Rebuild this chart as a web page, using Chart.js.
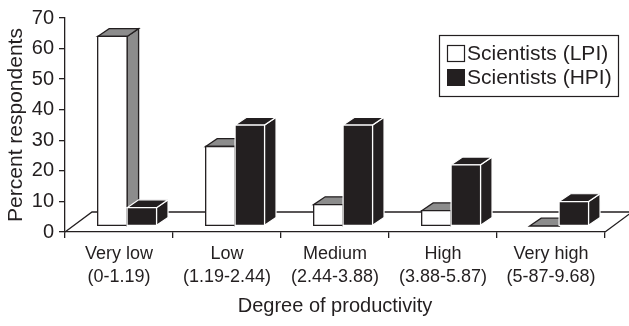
<!DOCTYPE html>
<html>
<head>
<meta charset="utf-8">
<script src="https://cdn.jsdelivr.net/npm/chart.js@4.4.1/dist/chart.umd.min.js"></script>
<style>
  html, body { margin: 0; padding: 0; background: #ffffff; }
  canvas { display: block; }
</style>
</head>
<body>
<canvas id="chart" width="629" height="326"></canvas>
<script>
// Productivity classes (two-line tick labels)
const categories = [
  ['Very low', '(0-1.19)'],
  ['Low', '(1.19-2.44)'],
  ['Medium', '(2.44-3.88)'],
  ['High', '(3.88-5.87)'],
  ['Very high', '(5-87-9.68)']
];
const seriesNames = ['Scientists (LPI)', 'Scientists (HPI)'];
// Percent of respondents in each class
const lpiValues = [62, 26, 7, 5, 0];
const hpiValues = [6, 33, 33, 20, 8];
const yTickValues = [0, 10, 20, 30, 40, 50, 60, 70];

const INK = '#231f20';
const FONT = "'Liberation Sans', Arial, Helvetica, sans-serif";

// Pseudo-3D geometry: floor depth, where bar fronts sit on it, and bar depth
const FLOOR = { dx: 27, dy: -20 };
const FRONT_AT = 0.3;
const BAR_DEPTH = { dx: 11.5, dy: -7.8 };

const seriesStyle = [
  { front: '#ffffff', top: '#8c8c8c', side: '#8c8c8c', edge: INK, lw: 1.3 },
  { front: INK, top: INK, side: INK, edge: '#ffffff', lw: 1.2 }
];

function prism(ctx, x0, x1, yTop, yBase, s) {
  const d = BAR_DEPTH;
  ctx.lineWidth = s.lw;
  ctx.strokeStyle = s.edge;
  ctx.lineJoin = 'miter';
  // side face
  ctx.beginPath();
  ctx.moveTo(x1, yTop);
  ctx.lineTo(x1 + d.dx, yTop + d.dy);
  ctx.lineTo(x1 + d.dx, yBase + d.dy);
  ctx.lineTo(x1, yBase);
  ctx.closePath();
  ctx.fillStyle = s.side; ctx.fill(); ctx.stroke();
  // top face
  ctx.beginPath();
  ctx.moveTo(x0, yTop);
  ctx.lineTo(x0 + d.dx, yTop + d.dy);
  ctx.lineTo(x1 + d.dx, yTop + d.dy);
  ctx.lineTo(x1, yTop);
  ctx.closePath();
  ctx.fillStyle = s.top; ctx.fill(); ctx.stroke();
  // front face
  if (yBase - yTop > 0.5) {
    ctx.beginPath();
    ctx.rect(x0, yTop, x1 - x0, yBase - yTop);
    ctx.fillStyle = s.front; ctx.fill(); ctx.stroke();
  }
}

const bars3d = {
  id: 'bars3d',
  beforeDatasetsDraw(chart) {
    // floor outline behind the bars
    const { ctx, chartArea: a } = chart;
    ctx.save();
    ctx.strokeStyle = INK;
    ctx.lineWidth = 1.3;
    ctx.beginPath();
    ctx.moveTo(a.left, a.bottom);
    ctx.lineTo(a.left + FLOOR.dx, a.bottom + FLOOR.dy);
    ctx.lineTo(a.right + FLOOR.dx, a.bottom + FLOOR.dy);
    ctx.moveTo(a.right, a.bottom);
    ctx.lineTo(a.right + FLOOR.dx, a.bottom + FLOOR.dy);
    ctx.stroke();
    ctx.restore();
  },
  beforeDatasetDraw() {
    return false; // flat bars replaced by the prisms below
  },
  afterDatasetsDraw(chart) {
    const { ctx } = chart;
    const ox = FLOOR.dx * FRONT_AT, oy = FLOOR.dy * FRONT_AT;
    const metas = chart.data.datasets.map((_, i) => chart.getDatasetMeta(i));
    ctx.save();
    for (let i = 0; i < categories.length; i++) {
      metas.forEach((meta, k) => {
        const el = meta.data[i];
        const x0 = el.x - el.width / 2 + ox;
        const x1 = el.x + el.width / 2 + ox;
        prism(ctx, x0, x1, el.y + oy, el.base + oy, seriesStyle[k]);
      });
    }
    ctx.restore();
  },
  afterDraw(chart) {
    // boxed legend, upper right
    const { ctx } = chart;
    ctx.save();
    ctx.strokeStyle = INK;
    ctx.lineWidth = 1.2;
    ctx.strokeRect(439.5, 35.5, 179, 61);
    ctx.font = '21px ' + FONT;
    ctx.textBaseline = 'middle';
    ctx.textAlign = 'left';
    seriesNames.forEach((name, k) => {
      const y = 45 + k * 24;
      ctx.fillStyle = k === 0 ? '#ffffff' : INK;
      ctx.fillRect(447, y, 18, 17);
      if (k === 0) {
        ctx.strokeStyle = INK;
        ctx.lineWidth = 1.2;
        ctx.strokeRect(447.5, y + 0.5, 17, 16);
      }
      ctx.fillStyle = INK;
      ctx.fillText(name, 467, y + 9);
    });
    ctx.restore();
  }
};

Chart.defaults.font.family = FONT;
Chart.defaults.color = INK;

new Chart(document.getElementById('chart'), {
  type: 'bar',
  data: {
    labels: categories,
    datasets: [
      { label: seriesNames[0], data: lpiValues, backgroundColor: '#ffffff', borderColor: INK },
      { label: seriesNames[1], data: hpiValues, backgroundColor: INK, borderColor: INK }
    ]
  },
  options: {
    responsive: false,
    animation: false,
    events: [],
    layout: { padding: { top: 18, right: 24, left: 0, bottom: 0 } },
    datasets: { bar: { categoryPercentage: 0.545, barPercentage: 1.0 } },
    plugins: { legend: { display: false }, tooltip: { enabled: false } },
    scales: {
      x: {
        type: 'category',
        offset: true,
        grid: { offset: true, drawOnChartArea: false, drawTicks: true, tickLength: 6, color: INK, lineWidth: 1.3 },
        border: { display: true, color: INK, width: 1.3 },
        ticks: { font: { size: 18, lineHeight: 1.25 }, color: INK, padding: 5, maxRotation: 0, autoSkip: false },
        title: { display: true, text: 'Degree of productivity', font: { size: 20 }, color: INK, padding: { top: 0, bottom: 8 } },
        afterFit(scale) { scale.height = 94; }
      },
      y: {
        min: 0,
        max: 70,
        afterBuildTicks(scale) { scale.ticks = yTickValues.map(v => ({ value: v })); },
        grid: { drawOnChartArea: false, drawTicks: true, tickLength: 6, color: INK, lineWidth: 1.3 },
        border: { display: true, color: INK, width: 1.3 },
        ticks: { font: { size: 20 }, color: INK, padding: 5 },
        title: { display: true, text: 'Percent respondents', font: { size: 21 }, color: INK, padding: { top: 4, bottom: 0 } },
        afterFit(scale) { scale.width = 65; }
      }
    }
  },
  plugins: [bars3d]
});
</script>
</body>
</html>
